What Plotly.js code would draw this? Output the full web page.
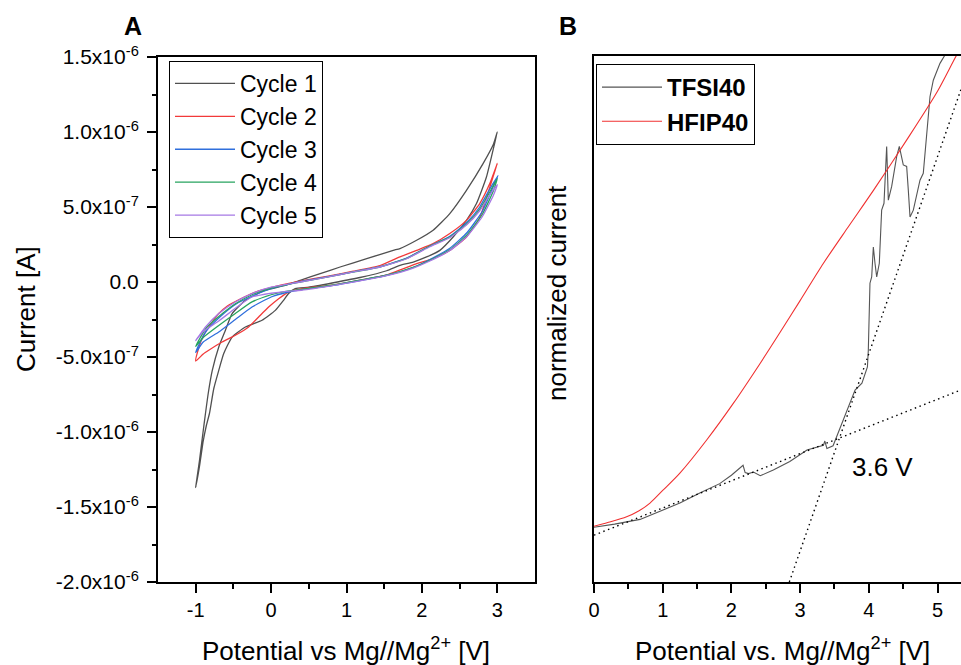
<!DOCTYPE html>
<html>
<head>
<meta charset="utf-8">
<script src="https://cdn.plot.ly/plotly-3.0.1.min.js"></script>
<style>
html,body{margin:0;padding:0;background:#ffffff;}
#chart{width:961px;height:665px;}
</style>
</head>
<body>
<div id="chart"></div>
<script>
// ---------------- Panel A: cyclic voltammograms (Potential [V], Current [A]) ----------------
const cycle1Potential = [-1.0,-0.95,-0.90,-0.86,-0.817,-0.76,-0.694,-0.628,-0.517,-0.341,-0.12,0.056,0.165,0.232,0.32,0.5,0.827,1.18,1.533,1.709,1.885,2.062,2.238,2.414,2.591,2.724,2.856,2.943,3.0,
  2.95,2.811,2.591,2.37,2.149,1.93,1.709,1.62,1.268,0.915,0.651,0.386,0.187,-0.077,-0.341,-0.517,-0.606,-0.694,-0.78,-0.83,-0.87,-0.91,-0.95,-1.0];
const cycle1Current = [-1.37e-6,-1.23e-6,-1.06e-6,-9.6e-7,-8.75e-7,-7.1e-7,-5.89e-7,-4.77e-7,-3.67e-7,-3.0e-7,-2.55e-7,-1.89e-7,-1.22e-7,-7.7e-8,-4.4e-8,-3.5e-8,-5e-9,3.0e-8,7.5e-8,1.11e-7,1.33e-7,1.67e-7,2.11e-7,3.0e-7,4.11e-7,5.23e-7,7.0e-7,8.78e-7,1.0e-6,
  9.2e-7,7.89e-7,6.11e-7,4.56e-7,3.45e-7,2.78e-7,2.23e-7,2.11e-7,1.56e-7,1.0e-7,5.6e-8,1.1e-8,-2.2e-8,-5.5e-8,-1.22e-7,-2.11e-7,-3.22e-7,-4.33e-7,-5.89e-7,-7.3e-7,-8.75e-7,-1.03e-6,-1.19e-6,-1.37e-6];

const cycle2Potential = [-1.0,-0.9,-0.827,-0.65,-0.474,-0.298,-0.165,-0.033,0.1,0.232,0.409,0.585,0.83,1.18,1.533,1.93,2.149,2.37,2.591,2.767,2.943,3.0,
  2.9,2.767,2.591,2.37,2.149,1.93,1.709,1.444,1.091,0.739,0.386,0.1,-0.25,-0.474,-0.58,-0.694,-0.8,-0.9,-0.96,-1.0];
const cycle2Current = [-5.27e-7,-4.8e-7,-4.55e-7,-4.0e-7,-3.55e-7,-3.0e-7,-2.33e-7,-1.67e-7,-1.11e-7,-6.7e-8,-4.4e-8,-3.3e-8,-2.0e-8,1.2e-8,4.7e-8,1.22e-7,1.56e-7,2.11e-7,3.0e-7,4.3e-7,7.0e-7,7.9e-7,
  6.56e-7,5.23e-7,4.11e-7,3.23e-7,2.56e-7,2.11e-7,1.67e-7,1.1e-7,7.2e-8,3.8e-8,5e-9,-2.5e-8,-7.5e-8,-1.3e-7,-1.6e-7,-2.1e-7,-2.8e-7,-3.6e-7,-4.4e-7,-5.27e-7];

const cycle3Potential = [-1.0,-0.9,-0.694,-0.474,-0.253,0.0,0.2,0.4,0.83,1.18,1.533,1.885,2.106,2.37,2.6,2.8,2.95,3.01,
  2.9,2.767,2.591,2.37,2.106,1.798,1.444,1.091,0.739,0.386,0.0,-0.253,-0.474,-0.694,-0.85,-0.95,-1.0];
const cycle3Current = [-4.7e-7,-4.0e-7,-3.33e-7,-2.5e-7,-1.67e-7,-1.0e-7,-7.0e-8,-5.2e-8,-2.2e-8,1.0e-8,4.5e-8,9.8e-8,1.5e-7,2.25e-7,3.3e-7,4.7e-7,6.4e-7,7.1e-7,
  6.2e-7,5.0e-7,3.95e-7,3.05e-7,2.4e-7,1.6e-7,1.02e-7,6.8e-8,3.4e-8,2e-9,-4.5e-8,-9.5e-8,-1.5e-7,-2.4e-7,-3.2e-7,-4.1e-7,-4.7e-7];

const cycle4Potential = [-1.0,-0.9,-0.694,-0.474,-0.253,0.0,0.2,0.4,0.83,1.18,1.533,1.885,2.106,2.37,2.6,2.8,2.95,3.0,
  2.9,2.767,2.591,2.37,2.106,1.798,1.444,1.091,0.739,0.386,0.0,-0.253,-0.474,-0.694,-0.85,-0.95,-1.0];
const cycle4Current = [-4.3e-7,-3.7e-7,-2.9e-7,-2.1e-7,-1.33e-7,-8.5e-8,-6.2e-8,-5.0e-8,-2.0e-8,1.2e-8,4.5e-8,9.7e-8,1.45e-7,2.15e-7,3.15e-7,4.5e-7,6.1e-7,6.9e-7,
  6.0e-7,4.85e-7,3.85e-7,3.0e-7,2.4e-7,1.57e-7,1.0e-7,6.7e-8,3.3e-8,0.0,-4.0e-8,-8.5e-8,-1.45e-7,-2.3e-7,-3.0e-7,-3.8e-7,-4.3e-7];

const cycle5Potential = [-1.0,-0.9,-0.694,-0.474,-0.253,0.0,0.2,0.4,0.83,1.18,1.533,1.885,2.106,2.37,2.6,2.8,2.95,3.0,
  2.9,2.767,2.591,2.37,2.106,1.798,1.444,1.091,0.739,0.386,0.012,-0.253,-0.474,-0.694,-0.87,-1.0];
const cycle5Current = [-3.9e-7,-3.3e-7,-2.6e-7,-1.75e-7,-1.0e-7,-7.5e-8,-6.2e-8,-5.5e-8,-2.3e-8,8e-9,4.2e-8,9.3e-8,1.4e-7,2.1e-7,3.05e-7,4.35e-7,5.8e-7,6.5e-7,
  5.8e-7,4.75e-7,3.8e-7,2.95e-7,2.35e-7,1.55e-7,1.0e-7,6.7e-8,3.3e-8,0.0,-3.3e-8,-7.7e-8,-1.33e-7,-2.1e-7,-3.0e-7,-3.9e-7];

const cycleNames = ["Cycle 1","Cycle 2","Cycle 3","Cycle 4","Cycle 5"];
const cycleColors = ["#505050","#f23a3a","#2f6fdc","#27a35f","#a678e4"];

const currentTickVals = [-2e-6,-1.5e-6,-1e-6,-5e-7,0,5e-7,1e-6,1.5e-6];
const currentTickText = ["-2.0x10<sup>-6</sup>","-1.5x10<sup>-6</sup>","-1.0x10<sup>-6</sup>","-5.0x10<sup>-7</sup>","0.0","5.0x10<sup>-7</sup>","1.0x10<sup>-6</sup>","1.5x10<sup>-6</sup>"];
const currentMinorVals = [-1.75e-6,-1.25e-6,-7.5e-7,-2.5e-7,2.5e-7,7.5e-7,1.25e-6];
const potentialTickVals = [-1,0,1,2,3];
const potentialTickText = ["-1","0","1","2","3"];
const potentialMinorVals = [-0.5,0.5,1.5,2.5];

// ---------------- Panel B: normalized current vs potential ----------------
const tfsiPotential = [0,0.3,0.67,0.96,1.25,1.54,1.83,2.0,2.17,2.2,2.25,2.32,2.42,2.61,2.85,3.1,3.34,3.36,3.39,3.48,3.58,3.68,3.8,3.9,3.98,3.993,4.017,4.042,4.066,4.09,4.115,4.153,4.187,4.221,4.26,4.284,4.333,4.406,4.444,4.502,4.551,4.575,4.6,4.648,4.697,4.745,4.793,4.843,4.891,4.939,5.036,5.109,5.15];
const tfsiCurrent = [10.4,11.0,11.9,13.4,15.0,16.9,18.7,20.3,22.2,20.8,20.6,20.9,20.2,21.3,22.9,25.1,26.0,26.8,25.4,25.9,29.2,32.7,36.5,37.8,40.9,44.1,56.8,58.0,63.7,60.6,58.0,60.6,70.7,72.0,82.8,72.6,75.2,80.9,82.8,79.3,79.0,74.5,69.4,70.7,73.9,76.4,77.7,85.9,92.3,95.4,98.6,100.2,101.5];

const hfipPotential = [0,0.2,0.475,0.65,0.815,1.0,1.25,1.64,2.03,2.42,2.73,3.0,3.34,3.7,4.07,4.55,5.0,5.28,5.34];
const hfipCurrent = [10.6,11.3,12.4,13.5,15.0,17.4,20.7,27.0,34.0,41.6,47.9,53.5,60.6,67.5,74.5,84.0,93.3,100.2,101.4];

// tangent (onset) lines
const baselineTangentX = [0, 5.34];
const baselineTangentY = [8.9, 36.5];
const onsetTangentX = [2.843, 5.34];
const onsetTangentY = [0, 93.6];
const onsetLabel = "3.6 V";
const onsetLabelPos = [4.2, 21.8];

const traces = [];
const cycPot = [cycle1Potential,cycle2Potential,cycle3Potential,cycle4Potential,cycle5Potential];
const cycCur = [cycle1Current,cycle2Current,cycle3Current,cycle4Current,cycle5Current];
for (let i = 0; i < 5; i++) {
  traces.push({x: cycPot[i], y: cycCur[i], type:'scatter', mode:'lines', name: cycleNames[i],
    line:{color: cycleColors[i], width:1.3, shape:'spline', smoothing:0.5}, xaxis:'x', yaxis:'y', legend:'legend'});
}
traces.push({x: tfsiPotential, y: tfsiCurrent, type:'scatter', mode:'lines', name:'TFSI40',
  line:{color:'#555555', width:1.1}, xaxis:'x2', yaxis:'y2', legend:'legend2'});
traces.push({x: hfipPotential, y: hfipCurrent, type:'scatter', mode:'lines', name:'HFIP40',
  line:{color:'#f03030', width:1.1, shape:'spline', smoothing:0.8}, xaxis:'x2', yaxis:'y2', legend:'legend2'});
traces.push({x: baselineTangentX, y: baselineTangentY, type:'scatter', mode:'lines', showlegend:false,
  line:{color:'#000', width:1.4, dash:'1.5px,3.5px'}, xaxis:'x2', yaxis:'y2'});
traces.push({x: onsetTangentX, y: onsetTangentY, type:'scatter', mode:'lines', showlegend:false,
  line:{color:'#000', width:1.4, dash:'1.5px,3.5px'}, xaxis:'x2', yaxis:'y2'});

const W = 961, H = 665;
const px = v => v / W;
const py = v => 1 - v / H;
const FONT = "Liberation Sans, Arial, Helvetica, sans-serif";

const axisCommon = {showgrid:false, zeroline:false, showline:true, linecolor:'#000', linewidth:2,
  ticks:'outside', ticklen:9, tickwidth:2, tickcolor:'#000', tickfont:{size:20, color:'#000', family:FONT}, fixedrange:true};

const layout = {
  width: W, height: H,
  margin:{l:0,r:0,t:0,b:0},
  paper_bgcolor:'#fff', plot_bgcolor:'#fff',
  font:{family:FONT, color:'#000'},
  showlegend:true,
  xaxis: Object.assign({}, axisCommon, {domain:[px(158), px(535)], range:[-1.5,3.5], anchor:'y', mirror:true,
    tickmode:'array', tickvals:potentialTickVals, ticktext:potentialTickText,
    minor:{tickmode:'array', tickvals:potentialMinorVals, ticks:'outside', ticklen:5, tickwidth:2, tickcolor:'#000'}}),
  yaxis: Object.assign({}, axisCommon, {domain:[1-582/H, 1-57/H], range:[-2e-6,1.5e-6], anchor:'x', mirror:true,
    tickmode:'array', tickvals:currentTickVals, ticktext:currentTickText, tickfont:{size:21, color:'#000', family:FONT},
    ticklabelstandoff:4,
    minor:{tickmode:'array', tickvals:currentMinorVals, ticks:'outside', ticklen:4, tickwidth:2, tickcolor:'#000'}}),
  xaxis2: Object.assign({}, axisCommon, {domain:[px(594), 1], range:[0,5.342], anchor:'y2', mirror:true,
    tickmode:'linear', tick0:0, dtick:1,
    minor:{tick0:0, dtick:0.5, ticks:'outside', ticklen:5, tickwidth:2, tickcolor:'#000'}}),
  yaxis2: Object.assign({}, axisCommon, {domain:[1-582/H, 1-56/H], range:[0,100], anchor:'x2', mirror:false,
    ticks:'', showticklabels:false}),
  legend:{x:px(169), y:py(61), xanchor:'left', yanchor:'top', bordercolor:'#000', borderwidth:1,
    bgcolor:'rgba(255,255,255,0)', font:{size:23, family:FONT, color:'#000'}, itemwidth:60, tracegroupgap:0},
  legend2:{x:px(596), y:py(64), xanchor:'left', yanchor:'top', bordercolor:'#000', borderwidth:1,
    bgcolor:'rgba(255,255,255,0)', font:{size:24, family:FONT, color:'#000', weight:700}, itemwidth:60, tracegroupgap:0},
  annotations:[
    {text:'<b>A</b>', xref:'paper', yref:'paper', x:px(133), y:py(26), showarrow:false, xanchor:'center', yanchor:'middle', font:{size:25}},
    {text:'<b>B</b>', xref:'paper', yref:'paper', x:px(568), y:py(26), showarrow:false, xanchor:'center', yanchor:'middle', font:{size:25}},
    {text:'Potential vs Mg//Mg<sup>2+</sup> [V]', xref:'paper', yref:'paper', x:px(346), y:py(649), showarrow:false, xanchor:'center', yanchor:'middle', font:{size:26}},
    {text:'Potential vs. Mg//Mg<sup>2+</sup> [V]', xref:'paper', yref:'paper', x:px(782), y:py(649), showarrow:false, xanchor:'center', yanchor:'middle', font:{size:26}},
    {text:'Current [A]', xref:'paper', yref:'paper', x:px(26), y:py(309), showarrow:false, textangle:-90, xanchor:'center', yanchor:'middle', font:{size:26}},
    {text:'normalized current', xref:'paper', yref:'paper', x:px(557), y:py(293), showarrow:false, textangle:-90, xanchor:'center', yanchor:'middle', font:{size:26}},
    {text:onsetLabel, xref:'x2', yref:'y2', x:onsetLabelPos[0], y:onsetLabelPos[1], showarrow:false, xanchor:'center', yanchor:'middle', font:{size:26}}
  ]
};

Plotly.newPlot('chart', traces, layout, {displayModeBar:false, staticPlot:true});
</script>
</body>
</html>
